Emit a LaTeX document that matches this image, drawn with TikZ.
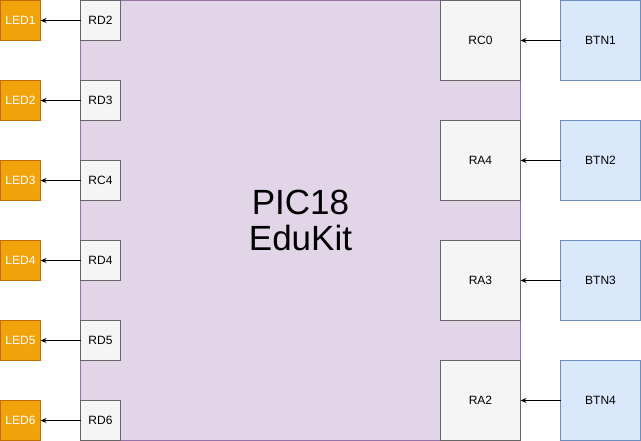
\documentclass[tikz,border=0pt]{standalone}
\usepackage{fontspec}
\setmainfont{Liberation Sans}
\usetikzlibrary{arrows.meta}
\definecolor{ledfill}{HTML}{F0A30A}\definecolor{ledline}{HTML}{BD7000}
\definecolor{pinfill}{HTML}{F5F5F5}\definecolor{pinline}{HTML}{666666}
\definecolor{btnfill}{HTML}{DAE8FC}\definecolor{btnline}{HTML}{6C8EBF}
\definecolor{chipfill}{HTML}{E1D5E7}\definecolor{chipline}{HTML}{9673A6}
\begin{document}
\begin{tikzpicture}[x=1pt,y=-1pt,font=\fontsize{12}{14}\selectfont,
 box/.style={draw,line width=1pt,inner sep=0pt,outer sep=0pt,anchor=north west},
 ledbox/.style={box,fill=ledfill,draw=ledline,text=white,minimum width=40pt,minimum height=40pt},
 pinbox/.style={box,fill=pinfill,draw=pinline,minimum width=40pt,minimum height=40pt},
 inbox/.style={pinbox,minimum width=80pt,minimum height=80pt},
 btnbox/.style={box,fill=btnfill,draw=btnline,minimum width=80pt,minimum height=80pt},
 wire/.style={line width=1pt,-{Stealth[length=6pt,width=5pt,inset=2pt]}}]
\useasboundingbox(-.5,-.5)rectangle(640.5,440.5);
\node[box,fill=chipfill,draw=chipline,minimum width=440pt,minimum height=440pt,align=center,
 font=\fontsize{35}{36}\selectfont](pic)at(80,0){PIC18\\EduKit};
\foreach \y/\n/\p in {0/1/RD2,80/2/RD3,160/3/RC4,240/4/RD4,320/5/RD5,400/6/RD6}{
 \node[ledbox](led\n)at(0,\y){LED\n};
 \node[pinbox](out\n)at(80,\y){\p};
 \draw[wire](out\n.west)--(led\n.east);}
\foreach \y/\n/\p in {0/1/RC0,120/2/RA4,240/3/RA3,360/4/RA2}{
 \node[inbox](in\n)at(440,\y){\p};
 \node[btnbox](btn\n)at(560,\y){BTN\n};
 \draw[wire](btn\n.west)--(in\n.east);}
\end{tikzpicture}
\end{document}
